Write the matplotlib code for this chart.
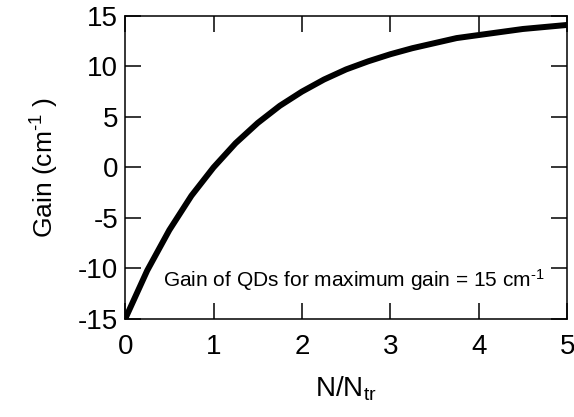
import matplotlib
matplotlib.use("Agg")
import matplotlib.pyplot as plt

plt.rcParams['font.family'] = ['Liberation Sans', 'DejaVu Sans']
plt.rcParams['mathtext.fontset'] = 'custom'
plt.rcParams['mathtext.rm'] = 'Liberation Sans'
plt.rcParams['mathtext.it'] = 'Liberation Sans'
plt.rcParams['axes.unicode_minus'] = False

n_ratio = [0, 0.25, 0.5, 0.75, 1.0, 1.25, 1.5, 1.75, 2.0, 2.25, 2.5, 2.75,
           3.0, 3.25, 3.5, 3.75, 4.0, 4.25, 4.5, 4.75, 5.0]
gain = [-15, -10.2, -6.2, -2.8, 0.0, 2.4, 4.4, 6.1, 7.5, 8.7, 9.7, 10.5,
        11.2, 11.8, 12.3, 12.8, 13.1, 13.4, 13.7, 13.9, 14.1]
x_ticks = [0, 1, 2, 3, 4, 5]
y_ticks = [-15, -10, -5, 0, 5, 10, 15]

fig = plt.figure(figsize=(5.74, 4.17), dpi=100)
ax = fig.add_axes([0.218, 0.235, 0.77, 0.727])
ax.plot(n_ratio, gain, color='black', lw=4.3, solid_capstyle='round')
ax.set_xlim(0, 5)
ax.set_ylim(-15, 15)
ax.set_xticks(x_ticks)
ax.set_yticks(y_ticks)
ax.tick_params(direction='in', length=11.5, width=1.1, top=True, right=True,
               labelsize=20)
ax.tick_params(axis='x', pad=11)
ax.tick_params(axis='y', pad=5)
for s in ax.spines.values():
    s.set_linewidth(1.1)
ax.set_xlabel(r'N/N$_{\rm tr}$', fontsize=20, labelpad=10)
ax.set_ylabel(r'Gain (cm$^{\text{-1}}$ )', fontsize=19, labelpad=12)
ax.text(0.43, -11.1, r'Gain of QDs for maximum gain = 15 cm$^{\text{-1}}$',
        fontsize=15, ha='left', va='center')
fig.savefig('out.png', dpi=100)
